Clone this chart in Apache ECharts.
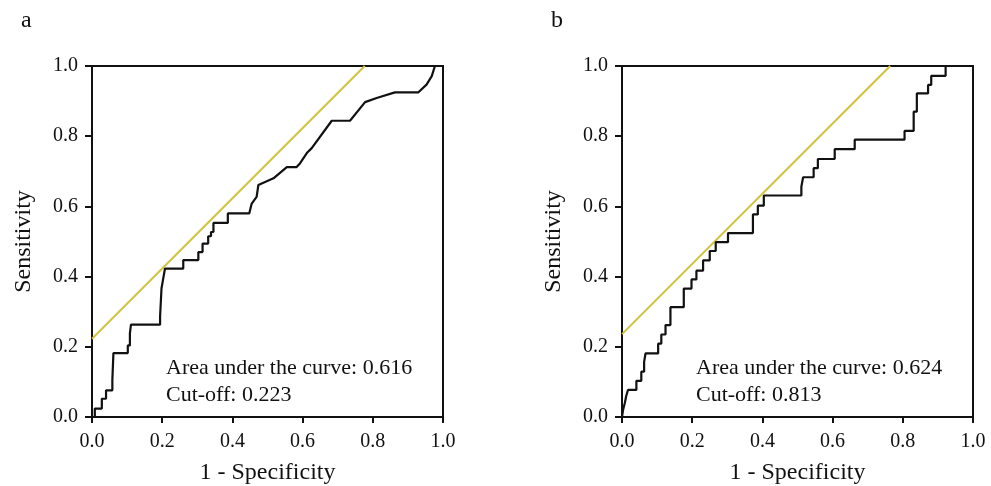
<!DOCTYPE html>
<html><head><meta charset="utf-8">
<script src="https://cdn.jsdelivr.net/npm/echarts@6/dist/echarts.min.js"></script>
<style>html,body{margin:0;padding:0;background:#fff}#c{width:991px;height:486px}</style>
</head><body><div id="c"></div>
<script>
// Panel a ROC curve (1 - specificity, sensitivity)
const rocA = [
[0,0],[0.008,0],[0.008,0.024],[0.028,0.024],[0.028,0.052],[0.04,0.052],[0.04,0.076],[0.058,0.076],[0.058,0.105],[0.061,0.105],[0.061,0.182],[0.102,0.182],[0.102,0.204],[0.108,0.204],[0.108,0.238],[0.111,0.238],[0.111,0.263],[0.194,0.263],[0.194,0.287],[0.198,0.287],[0.198,0.366],[0.201,0.366],[0.203,0.395],[0.208,0.423],[0.26,0.423],[0.26,0.447],[0.303,0.447],[0.303,0.47],[0.315,0.47],[0.315,0.494],[0.331,0.494],[0.331,0.515],[0.339,0.515],[0.339,0.527],[0.346,0.527],[0.346,0.553],[0.387,0.553],[0.387,0.58],[0.448,0.58],[0.455,0.608],[0.469,0.627],[0.474,0.661],[0.517,0.68],[0.555,0.712],[0.583,0.712],[0.593,0.723],[0.612,0.752],[0.626,0.766],[0.683,0.844],[0.735,0.844],[0.778,0.897],[0.811,0.909],[0.863,0.925],[0.93,0.925],[0.953,0.947],[0.968,0.971],[0.977,1],[1,1]
];
// Panel b ROC curve
const rocB = [
[0,0],[0.003,0],[0.003,0.02],[0.008,0.02],[0.008,0.04],[0.012,0.04],[0.012,0.06],[0.017,0.06],[0.017,0.077],[0.041,0.077],[0.041,0.103],[0.055,0.103],[0.055,0.129],[0.063,0.129],[0.063,0.157],[0.067,0.157],[0.067,0.181],[0.103,0.181],[0.103,0.209],[0.112,0.209],[0.112,0.235],[0.124,0.235],[0.124,0.262],[0.138,0.262],[0.138,0.313],[0.176,0.313],[0.176,0.366],[0.198,0.366],[0.198,0.392],[0.212,0.392],[0.212,0.417],[0.231,0.417],[0.231,0.446],[0.25,0.446],[0.25,0.473],[0.267,0.473],[0.267,0.498],[0.302,0.498],[0.302,0.524],[0.373,0.524],[0.373,0.577],[0.387,0.577],[0.387,0.602],[0.404,0.602],[0.404,0.631],[0.511,0.631],[0.511,0.656],[0.516,0.656],[0.516,0.683],[0.546,0.683],[0.546,0.709],[0.558,0.709],[0.558,0.735],[0.606,0.735],[0.606,0.763],[0.663,0.763],[0.663,0.79],[0.805,0.79],[0.805,0.815],[0.831,0.815],[0.831,0.87],[0.84,0.87],[0.84,0.922],[0.872,0.922],[0.872,0.946],[0.881,0.946],[0.881,0.972],[0.922,0.972],[0.922,1],[1,1]
];
// Cut-off tangent lines (endpoints)
const cutLineA = [[0,0.223],[0.777,1]];
const cutLineB = [[0,0.236],[0.764,1]];
const panelLetters = ['a','b'];
const aucTexts = ['Area under the curve: 0.616','Area under the curve: 0.624'];
const cutTexts = ['Cut-off: 0.223','Cut-off: 0.813'];
const xName = '1 - Specificity';
const yName = 'Sensitivity';

const FONT = 'Liberation Serif';
const chart = echarts.init(document.getElementById('c'));
const grids = [
  {left:92, top:66, width:351, height:351},
  {left:622, top:66, width:351, height:351}
];
function xAx(i){return {gridIndex:i,type:'value',min:0,max:1,interval:0.2,
  name:xName,nameLocation:'middle',nameGap:44,
  nameTextStyle:{fontFamily:FONT,fontSize:24,color:'#111'},
  axisLine:{show:true,lineStyle:{color:'#111',width:2}},
  axisTick:{show:true,inside:false,length:6,lineStyle:{color:'#111',width:2}},
  axisLabel:{fontFamily:FONT,fontSize:20,color:'#111',margin:15,formatter:v=>v.toFixed(1)},
  splitLine:{show:false}};}
function yAx(i){return {gridIndex:i,type:'value',min:0,max:1,interval:0.2,
  name:yName,nameLocation:'middle',nameGap:56,
  nameTextStyle:{fontFamily:FONT,fontSize:24,color:'#111'},
  axisLine:{show:true,lineStyle:{color:'#111',width:2}},
  axisTick:{show:true,inside:false,length:7,lineStyle:{color:'#111',width:2}},
  axisLabel:{fontFamily:FONT,fontSize:20,color:'#111',margin:14,formatter:v=>v.toFixed(1)},
  splitLine:{show:false}};}
const YEL = '#d0c23e';
const option = {
  animation:false,
  backgroundColor:'#fff',
  grid: grids.map(g=>Object.assign({show:true,borderColor:'#111',borderWidth:2,backgroundColor:'transparent',containLabel:false,outerBoundsMode:'none'},g)),
  xAxis:[xAx(0),xAx(1)],
  yAxis:[yAx(0),yAx(1)],
  series:[
    {type:'line',xAxisIndex:0,yAxisIndex:0,data:cutLineA,symbol:'none',lineStyle:{color:YEL,width:2},z:2},
    {type:'line',xAxisIndex:0,yAxisIndex:0,data:rocA,symbol:'none',lineStyle:{color:'#111',width:2.2},z:3},
    {type:'line',xAxisIndex:1,yAxisIndex:1,data:cutLineB,symbol:'none',lineStyle:{color:YEL,width:2},z:2},
    {type:'line',xAxisIndex:1,yAxisIndex:1,data:rocB,symbol:'none',lineStyle:{color:'#111',width:2.2},z:3}
  ],
  graphic:[
    {type:'text',left:21,top:9,style:{text:panelLetters[0],font:'24px "Liberation Serif"',fill:'#111'}},
    {type:'text',left:551,top:9,style:{text:panelLetters[1],font:'24px "Liberation Serif"',fill:'#111'}},
    {type:'text',left:166,top:355,style:{text:aucTexts[0]+'\n'+cutTexts[0],font:'22px "Liberation Serif"',lineHeight:27,fill:'#111'}},
    {type:'text',left:696,top:355,style:{text:aucTexts[1]+'\n'+cutTexts[1],font:'22px "Liberation Serif"',lineHeight:27,fill:'#111'}}
  ]
};
chart.setOption(option);
</script></body></html>
